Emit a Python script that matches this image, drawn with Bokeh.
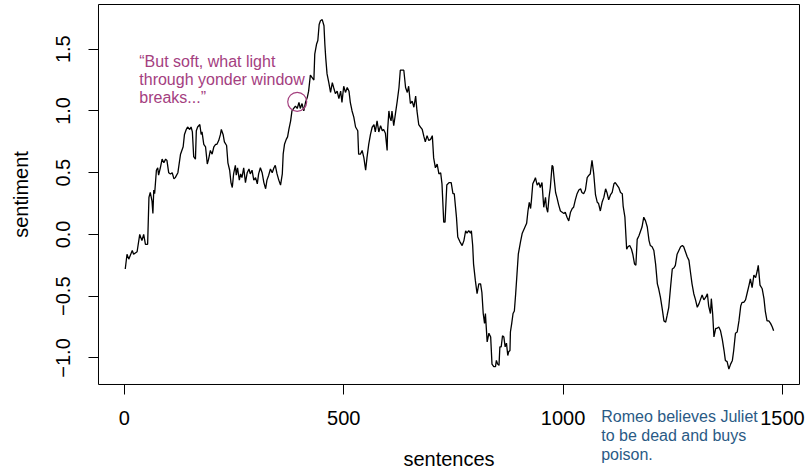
import math
from bokeh.plotting import figure
from bokeh.models import Range1d, FixedTicker, Label, BoxAnnotation
from bokeh.embed import file_html
from bokeh.resources import INLINE

# ---- data ----
sentence = [
    2, 6, 10, 18, 21, 29, 35, 40, 44, 48, 53, 56, 59, 63, 65, 67, 69, 73, 76, 78,
    82, 86, 90, 94, 97, 101, 105, 109, 113, 116, 122, 128, 134, 137, 141, 144, 149, 152, 155, 158,
    162, 164, 167, 172, 175, 177, 181, 185, 189, 192, 196, 200, 204, 208, 211, 215, 219, 221, 225, 228,
    233, 236, 240, 243, 246, 249, 253, 255, 258, 262, 265, 268, 272, 276, 280, 284, 287, 291, 295, 299,
    303, 306, 310, 314, 318, 322, 325, 329, 333, 337, 341, 344, 348, 352, 356, 360, 362, 365, 369, 372,
    375, 379, 382, 386, 390, 394, 398, 401, 405, 409, 413, 417, 420, 424, 428, 432, 434, 438, 441, 444,
    447, 451, 455, 457, 459, 462, 466, 470, 474, 477, 481, 485, 489, 493, 496, 500, 504, 508, 512, 515,
    519, 523, 527, 532, 534, 538, 542, 546, 550, 553, 557, 561, 565, 569, 572, 576, 580, 584, 588, 591,
    595, 599, 600, 603, 605, 608, 610, 614, 618, 622, 626, 629, 633, 637, 641, 645, 648, 652, 656, 660,
    664, 667, 671, 675, 679, 683, 686, 690, 694, 698, 702, 705, 709, 713, 717, 721, 724, 728, 731, 735,
    740, 745, 749, 752, 757, 760, 765, 770, 774, 778, 781, 785, 789, 791, 794, 796, 800, 804, 808, 812,
    815, 818, 821, 823, 827, 831, 835, 838, 842, 846, 848, 851, 854, 856, 859, 862, 865, 868, 871, 874,
    876, 879, 880, 883, 886, 889, 892, 895, 898, 903, 907, 912, 917, 920, 923, 926, 928, 931, 935, 937,
    941, 945, 948, 952, 956, 960, 962, 965, 968, 971, 975, 977, 980, 983, 986, 990, 994, 998, 1002, 1005,
    1009, 1013, 1017, 1021, 1024, 1028, 1032, 1036, 1040, 1043, 1047, 1051, 1055, 1059, 1062, 1066, 1070, 1074, 1078, 1081,
    1085, 1089, 1093, 1097, 1100, 1104, 1108, 1112, 1116, 1119, 1123, 1127, 1131, 1135, 1137, 1141, 1145, 1148, 1152, 1156,
    1159, 1163, 1166, 1169, 1173, 1177, 1180, 1184, 1188, 1192, 1196, 1199, 1203, 1207, 1211, 1215, 1218, 1222, 1226, 1230,
    1234, 1237, 1241, 1245, 1249, 1253, 1256, 1260, 1264, 1268, 1272, 1275, 1279, 1283, 1287, 1291, 1294, 1298, 1302, 1306,
    1310, 1313, 1317, 1321, 1325, 1329, 1332, 1336, 1338, 1341, 1344, 1348, 1351, 1355, 1359, 1363, 1367, 1370, 1374, 1378,
    1382, 1386, 1389, 1393, 1397, 1401, 1405, 1408, 1412, 1416, 1420, 1424, 1427, 1431, 1435, 1439, 1443, 1445, 1449, 1454,
    1458, 1461, 1465, 1469, 1473, 1477, 1480,
]
sentiment = [
    -0.28, -0.16, -0.20, -0.13, -0.16, -0.14, 0.00, -0.05, 0.00, -0.08, -0.08, 0.30, 0.34, 0.27, 0.17, 0.36, 0.33, 0.52, 0.54, 0.48,
    0.54, 0.61, 0.58, 0.61, 0.60, 0.50, 0.49, 0.50, 0.45, 0.46, 0.50, 0.65, 0.71, 0.81, 0.85, 0.87, 0.85, 0.87, 0.83, 0.63,
    0.61, 0.84, 0.87, 0.89, 0.81, 0.83, 0.73, 0.71, 0.57, 0.61, 0.68, 0.65, 0.71, 0.73, 0.73, 0.76, 0.81, 0.85, 0.81, 0.75,
    0.72, 0.58, 0.52, 0.42, 0.38, 0.49, 0.56, 0.48, 0.54, 0.44, 0.49, 0.46, 0.54, 0.42, 0.50, 0.53, 0.49, 0.52, 0.44, 0.46,
    0.41, 0.49, 0.54, 0.50, 0.42, 0.37, 0.44, 0.48, 0.53, 0.50, 0.54, 0.56, 0.49, 0.44, 0.40, 0.49, 0.65, 0.73, 0.77, 0.79,
    0.85, 0.92, 1.00, 1.02, 1.04, 1.02, 1.07, 1.02, 1.06, 1.00, 1.07, 1.11, 1.16, 1.29, 1.27, 1.25, 1.46, 1.54, 1.57, 1.70,
    1.73, 1.74, 1.69, 1.54, 1.43, 1.30, 1.23, 1.15, 1.23, 1.19, 1.14, 1.16, 1.10, 1.16, 1.07, 1.20, 1.15, 1.19, 1.16, 1.07,
    1.00, 0.95, 0.87, 0.84, 0.65, 0.65, 0.68, 0.62, 0.52, 0.62, 0.73, 0.81, 0.87, 0.89, 0.83, 0.92, 0.83, 0.88, 0.84, 0.85,
    0.82, 0.68, 0.84, 1.00, 0.95, 0.92, 1.00, 0.88, 0.98, 1.08, 1.19, 1.33, 1.33, 1.33, 1.19, 1.15, 1.20, 1.06, 1.08, 1.03,
    1.12, 1.00, 0.89, 0.87, 0.85, 0.79, 0.75, 0.80, 0.76, 0.77, 0.80, 0.62, 0.54, 0.57, 0.49, 0.50, 0.41, 0.10, 0.10, 0.40,
    0.42, 0.42, 0.33, 0.33, 0.14, -0.02, -0.06, -0.09, -0.05, 0.03, 0.01, 0.03, 0.01, 0.03, -0.09, -0.24, -0.37, -0.48, -0.40, -0.40,
    -0.47, -0.64, -0.72, -0.64, -0.87, -0.80, -0.83, -1.05, -1.07, -1.07, -1.02, -1.05, -1.06, -0.91, -0.91, -0.82, -0.83, -0.91, -0.88, -0.98,
    -0.95, -0.94, -0.79, -0.72, -0.64, -0.62, -0.48, -0.32, -0.16, -0.06, 0.01, 0.05, 0.09, 0.19, 0.26, 0.21, 0.28, 0.41, 0.44, 0.46,
    0.40, 0.42, 0.38, 0.42, 0.22, 0.30, 0.22, 0.18, 0.30, 0.38, 0.56, 0.55, 0.44, 0.34, 0.30, 0.24, 0.19, 0.18, 0.17, 0.18,
    0.14, 0.11, 0.18, 0.21, 0.22, 0.28, 0.33, 0.36, 0.37, 0.34, 0.33, 0.36, 0.46, 0.48, 0.49, 0.60, 0.49, 0.32, 0.26, 0.25,
    0.19, 0.26, 0.30, 0.37, 0.34, 0.28, 0.32, 0.34, 0.41, 0.42, 0.40, 0.38, 0.34, 0.33, 0.23, 0.14, -0.12, -0.10, -0.09, -0.12,
    -0.16, -0.24, -0.25, -0.04, -0.01, 0.03, 0.06, 0.14, 0.11, 0.06, -0.05, -0.09, -0.10, -0.13, -0.24, -0.40, -0.44, -0.51, -0.60, -0.70,
    -0.71, -0.66, -0.59, -0.43, -0.28, -0.27, -0.25, -0.16, -0.13, -0.10, -0.09, -0.10, -0.14, -0.18, -0.21, -0.32, -0.40, -0.48, -0.53, -0.59,
    -0.56, -0.53, -0.49, -0.53, -0.51, -0.48, -0.58, -0.64, -0.52, -0.64, -0.83, -0.76, -0.76, -0.75, -0.78, -0.85, -0.94, -1.02, -1.03, -1.09,
    -1.05, -1.02, -0.94, -0.80, -0.79, -0.70, -0.58, -0.55, -0.55, -0.53, -0.47, -0.41, -0.36, -0.43, -0.33, -0.35, -0.29, -0.25, -0.41, -0.44,
    -0.52, -0.62, -0.70, -0.70, -0.72, -0.75, -0.78,
]

x_ticks = [0, 500, 1000, 1500]
y_ticks = [-1.0, -0.5, 0.0, 0.5, 1.0, 1.5]
y_tick_labels = ["\u22121.0", "\u22120.5", "0.0", "0.5", "1.0", "1.5"]

quote_lines = ["\u201cBut soft, what light", "through yonder window", "breaks...\u201d"]
quote_x = 34
quote_y = [1.400, 1.254, 1.108]
quote_point = (394, 1.074)

event_lines = ["Romeo believes Juliet", "to be dead and buys", "poison."]
event_x = 1087
event_y = [-1.474, -1.628, -1.781]

MAGENTA = "#A4407F"
BLUE = "#2A5A85"
FONT = "Liberation Sans"

# plotting box (R's usr region) and the full drawing area around it
BOX_X0, BOX_X1 = -59, 1539
BOX_Y0, BOX_Y1 = -1.215, 1.862
FULL_X0, FULL_X1 = -282.4, 1561.8
FULL_Y0, FULL_Y1 = -1.9276, 1.8944
XLAB_Y = -1.822
YLAB_X = -236

p = figure(width=809, height=472, output_backend="svg", toolbar_location=None, title=None,
           x_range=Range1d(FULL_X0, FULL_X1), y_range=Range1d(FULL_Y0, FULL_Y1),
           min_border=0, min_border_left=0, min_border_right=0,
           min_border_top=0, min_border_bottom=0)
p.background_fill_color = "white"
p.border_fill_color = "white"
p.xgrid.visible = False
p.ygrid.visible = False
p.outline_line_color = None

for ax in (p.xaxis[0], p.yaxis[0]):
    ax.axis_line_color = None
    ax.major_tick_in = 0
    ax.major_tick_out = 10
    ax.minor_tick_line_color = None
    ax.major_tick_line_color = "black"
    ax.major_label_text_font = FONT
    ax.major_label_text_font_size = "20px"
    ax.major_label_text_color = "black"
    ax.axis_label = None

p.xaxis.ticker = FixedTicker(ticks=x_ticks)
p.xaxis.fixed_location = BOX_Y0
p.xaxis.major_label_standoff = 17

p.yaxis.ticker = FixedTicker(ticks=y_ticks)
p.yaxis.fixed_location = BOX_X0
p.yaxis.major_label_overrides = {t: l for t, l in zip(y_ticks, y_tick_labels)}
p.yaxis.major_label_orientation = "vertical"
p.yaxis.major_label_standoff = 18

# box around the plotting region
p.add_layout(BoxAnnotation(left=BOX_X0, right=BOX_X1, bottom=BOX_Y0, top=BOX_Y1,
                           fill_color=None, fill_alpha=0, line_color="black",
                           line_alpha=1, line_width=1, level="underlay"))

p.line(sentence, sentiment, line_color="black", line_width=1.3)

p.scatter(x=[quote_point[0]], y=[quote_point[1]], marker="circle", size=19,
          fill_color=None, line_color=MAGENTA, line_width=1.2)

# axis titles
p.add_layout(Label(x=(BOX_X0 + BOX_X1) / 2, y=XLAB_Y, text="sentences", text_font=FONT,
                   text_font_size="20px", text_color="black",
                   text_align="center", text_baseline="alphabetic"))
p.add_layout(Label(x=YLAB_X, y=(BOX_Y0 + BOX_Y1) / 2, text="sentiment", text_font=FONT,
                   text_font_size="20px", text_color="black", angle=math.pi / 2,
                   text_align="center", text_baseline="alphabetic"))

for txt, yy in zip(quote_lines, quote_y):
    p.add_layout(Label(x=quote_x, y=yy, text=txt, text_font=FONT, text_font_size="16px",
                       text_color=MAGENTA, text_baseline="alphabetic", text_align="left"))
for txt, yy in zip(event_lines, event_y):
    p.add_layout(Label(x=event_x, y=yy, text=txt, text_font=FONT,
                       text_font_size="16px", text_color=BLUE,
                       text_baseline="alphabetic", text_align="left"))

open("out.html", "w").write(file_html(p, INLINE))
